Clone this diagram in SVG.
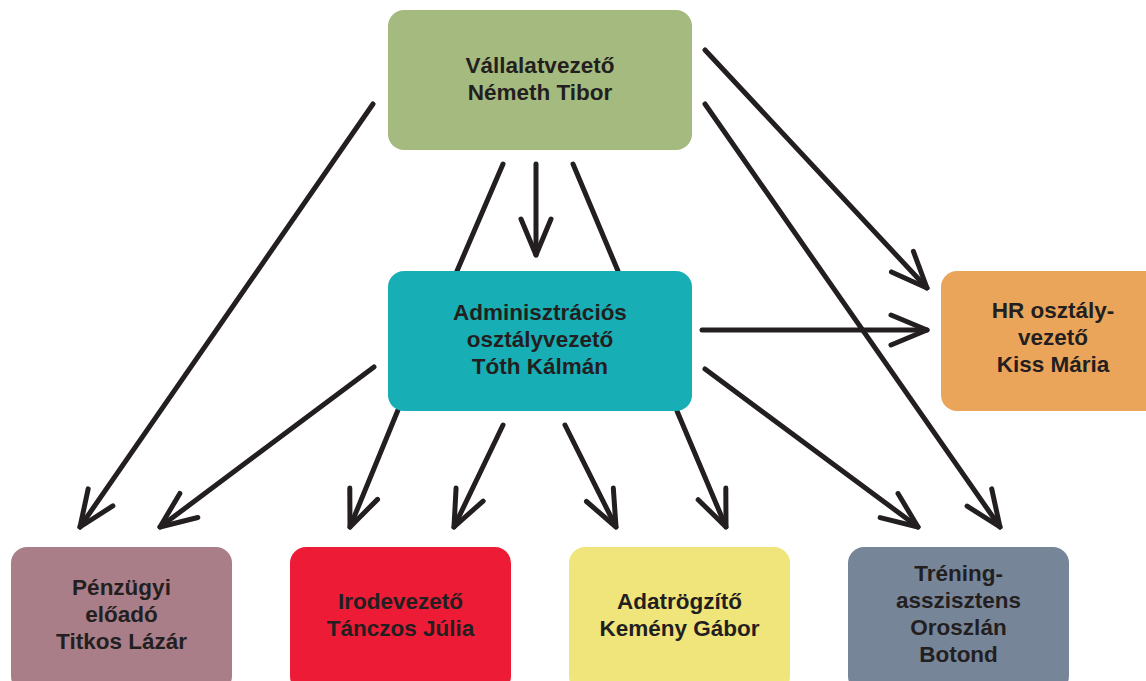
<svg xmlns="http://www.w3.org/2000/svg" width="1146" height="681" viewBox="0 0 1146 681">
<style>
.box{stroke:none}
.t{font-family:"Liberation Sans",Arial,sans-serif;font-weight:bold;font-size:22.5px;fill:#231f20;text-anchor:middle}
.c{stroke:#231f20;stroke-width:5;stroke-linecap:round;fill:none}
.a{marker-end:url(#ah)}
</style>
<defs>
<marker id="ah" markerUnits="userSpaceOnUse" orient="auto" viewBox="-42 -20 46 40" refX="0" refY="0" markerWidth="46" markerHeight="40" overflow="visible">
<path d="M-36,-15 L0,0 L-36,15" fill="none" stroke="#231f20" stroke-width="5" stroke-linecap="round" stroke-linejoin="round"/>
</marker>
</defs>
<rect width="1146" height="681" fill="#ffffff"/>
<g id="connectors">
<line class="c a" x1="373" y1="104" x2="80" y2="527"/>
<line class="c" x1="503" y1="164" x2="457" y2="271"/>
<line class="c a" x1="536" y1="164" x2="536" y2="255"/>
<line class="c" x1="573" y1="164" x2="618" y2="271"/>
<line class="c a" x1="705" y1="50" x2="927" y2="288"/>
<line class="c a" x1="705" y1="104" x2="1000" y2="527"/>
<line class="c a" x1="702" y1="330" x2="927" y2="330"/>
<line class="c a" x1="374" y1="367" x2="160" y2="527"/>
<line class="c a" x1="398" y1="410" x2="350" y2="527"/>
<line class="c a" x1="503" y1="425" x2="454" y2="527"/>
<line class="c a" x1="565" y1="425" x2="616" y2="527"/>
<line class="c a" x1="677" y1="411" x2="726" y2="527"/>
<line class="c a" x1="705" y1="369" x2="918" y2="527"/>
</g>
<g id="n-vallalatvezeto">
<rect class="box" x="388" y="10" width="304" height="140" rx="16" fill="#a5ba7e"/>
<text class="t" x="540" y="73">Vállalatvezető</text>
<text class="t" x="540" y="100">Németh Tibor</text>
</g>
<g id="n-adminisztracios">
<rect class="box" x="388" y="271" width="304" height="140" rx="16" fill="#17aeb6"/>
<text class="t" x="540" y="320">Adminisztrációs</text>
<text class="t" x="540" y="347">osztályvezető</text>
<text class="t" x="540" y="374">Tóth Kálmán</text>
</g>
<g id="n-hr">
<rect class="box" x="941" y="271" width="222" height="140" rx="16" fill="#eba55a"/>
<text class="t" x="1053" y="318">HR osztály-</text>
<text class="t" x="1053" y="345">vezető</text>
<text class="t" x="1053" y="372">Kiss Mária</text>
</g>
<g id="n-penzugyi">
<rect class="box" x="11" y="547" width="221" height="145" rx="16" fill="#a97e88"/>
<text class="t" x="121.5" y="595">Pénzügyi</text>
<text class="t" x="121.5" y="622">előadó</text>
<text class="t" x="121.5" y="649">Titkos Lázár</text>
</g>
<g id="n-irodevezeto">
<rect class="box" x="290" y="547" width="221" height="145" rx="16" fill="#ee1b37"/>
<text class="t" x="400.5" y="609">Irodevezető</text>
<text class="t" x="400.5" y="636">Tánczos Júlia</text>
</g>
<g id="n-adatrogzito">
<rect class="box" x="569" y="547" width="221" height="145" rx="16" fill="#efe57a"/>
<text class="t" x="679.5" y="609">Adatrögzítő</text>
<text class="t" x="679.5" y="636">Kemény Gábor</text>
</g>
<g id="n-trening">
<rect class="box" x="848" y="547" width="221" height="145" rx="16" fill="#778599"/>
<text class="t" x="958.5" y="581">Tréning-</text>
<text class="t" x="958.5" y="608">asszisztens</text>
<text class="t" x="958.5" y="635">Oroszlán</text>
<text class="t" x="958.5" y="662">Botond</text>
</g>
</svg>
